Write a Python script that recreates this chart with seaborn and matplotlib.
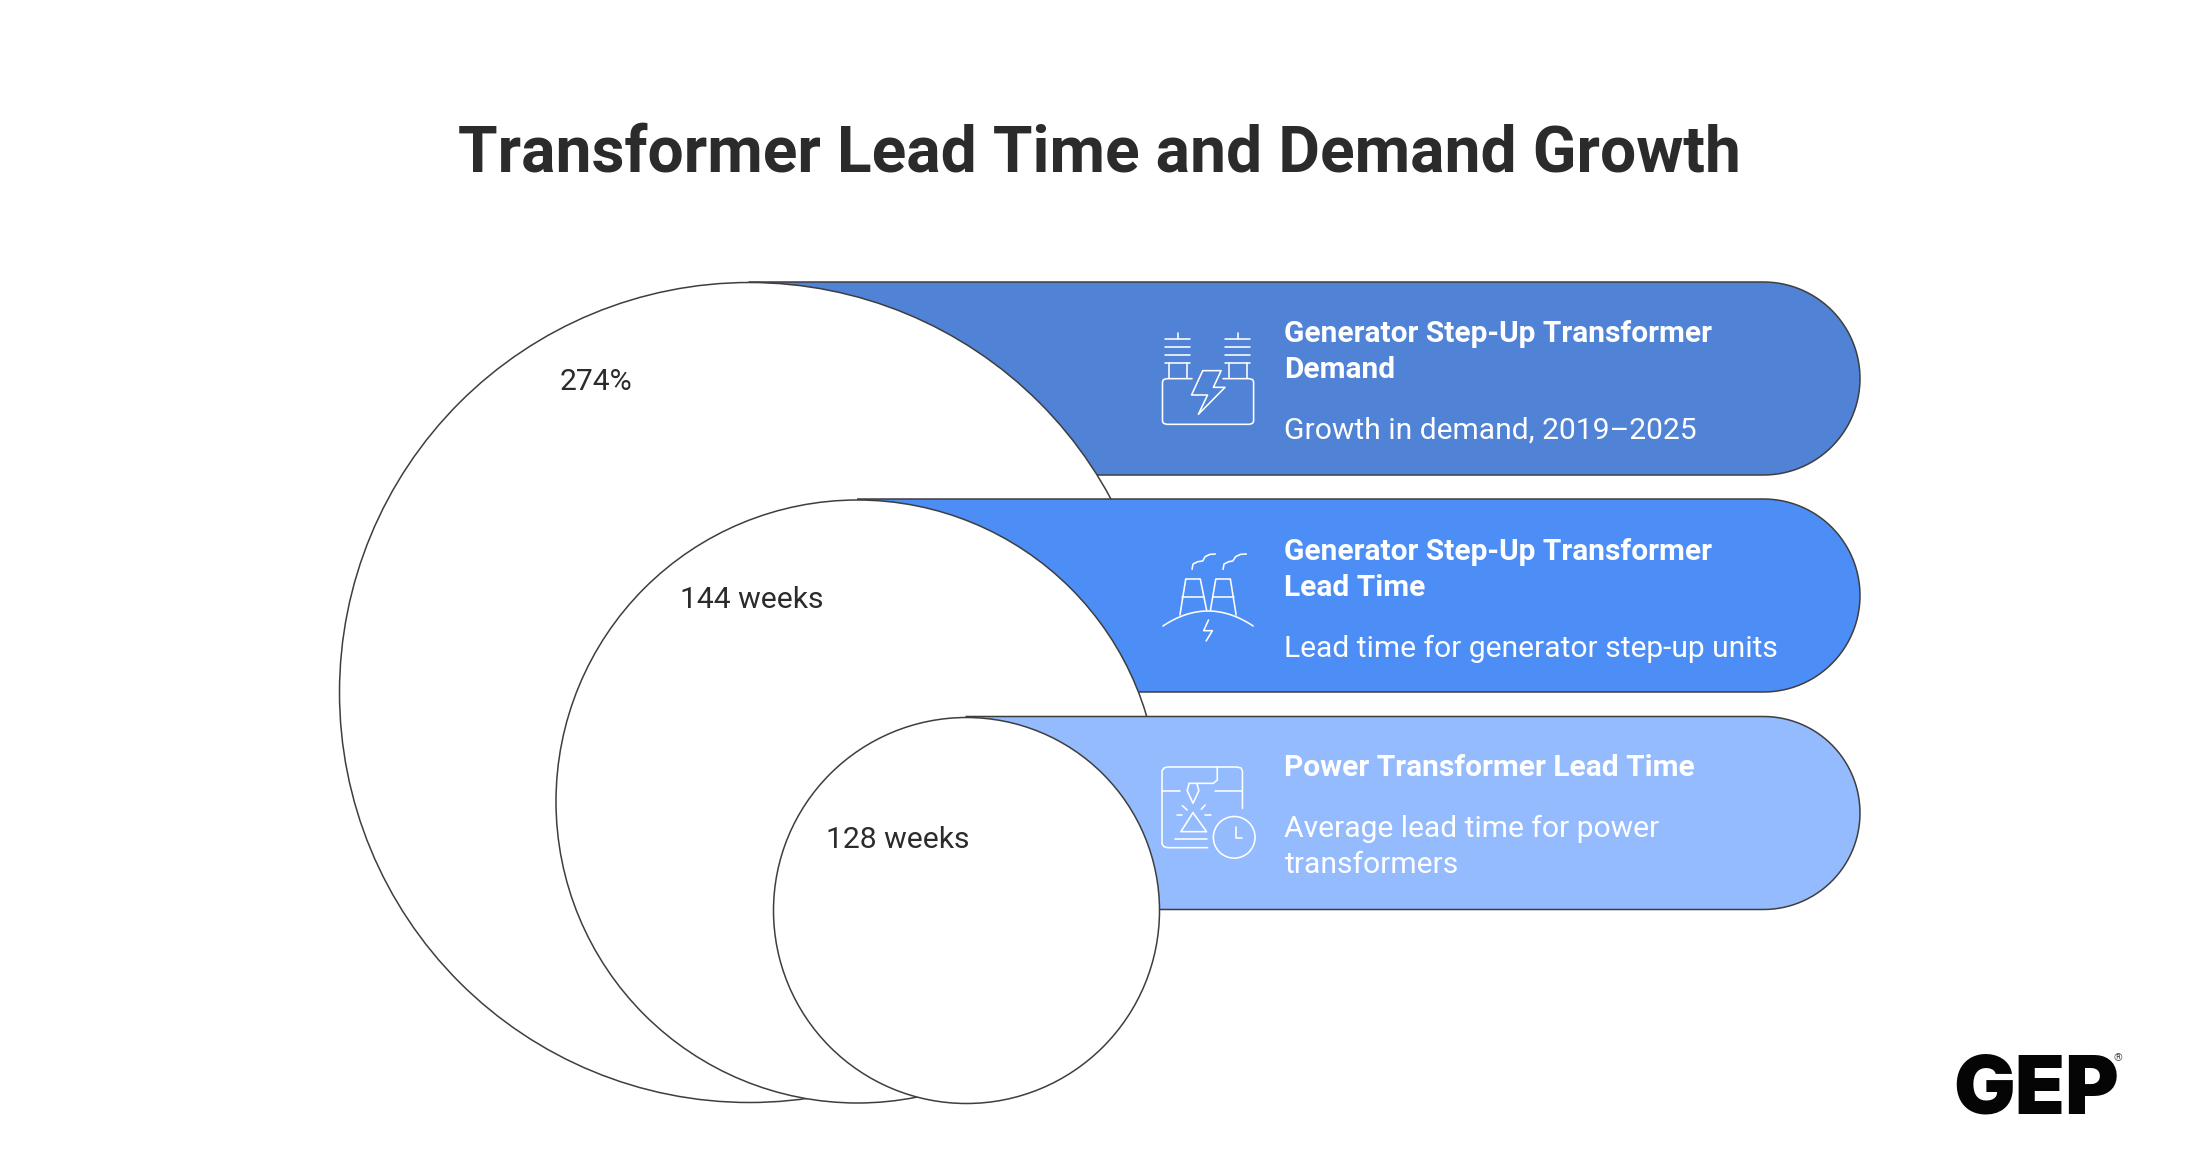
import numpy as np
import pandas as pd
import seaborn as sns
import matplotlib.pyplot as plt
from matplotlib.path import Path
from matplotlib.patches import PathPatch, Ellipse, Rectangle

# Chart content
metric_labels = ["274%", "144 weeks", "128 weeks"]
card_titles = ["Generator Step-Up Transformer\nDemand",
               "Generator Step-Up Transformer\nLead Time",
               "Power Transformer Lead Time"]
card_notes = ["Growth in demand, 2019\u20132025",
              "Lead time for generator step-up units",
              "Average lead time for power\ntransformers"]
card_colors = ["#5082D6", "#4D8EF6", "#95BBFF"]

# Layout, in pixels of the 2200x1175 picture
circle_x = [748.5, 857, 965.5]
circle_y = [692, 800.5, 909.5]
circle_r = [410, 301.5, 193]
card_right = 1860
label_xy = [(596, 382.5), (752, 599.5), (898, 840.5)]
title_y = [(333.5, 370), (551.5, 587.5), (768.5,)]
note_y = [(430.5,), (648.5,), (829, 865)]
line_color = "#3E3E3E"
text_color = "#2B2B2B"
SX, SY = 2.063, 3.0  # crop scale the icon points were read at

sns.set_theme(style="white")
plt.rcParams["font.family"] = ["Roboto", "DejaVu Sans"]

fig = plt.figure(figsize=(22, 11.75), dpi=100, facecolor="white")
ax = fig.add_axes([0, 0, 1, 1])


def draw_card(left, top, bottom, color, z):
    r = (bottom - top) / 2
    theta = np.linspace(-np.pi / 2, np.pi / 2, 60)
    arc = np.column_stack([card_right - r + r * np.cos(theta), top + r + r * np.sin(theta)])
    pts = np.vstack([[left, top], arc, [left, bottom]])
    ax.add_patch(PathPatch(Path(pts), facecolor=color, edgecolor=line_color, lw=1.1, zorder=z, fill=True))


def icon_line(pts, x0, y0, z=10):
    pts = np.array(pts, dtype=float)
    ax.plot(x0 + pts[:, 0] / SX, y0 + pts[:, 1] / SY, color="white", lw=1.15,
            solid_capstyle="round", solid_joinstyle="round", zorder=z)


# Cards and circles stacked from back to front
for i in range(3):
    top = circle_y[i] - circle_r[i]
    bottom = top + 193
    draw_card(circle_x[i], top, bottom, card_colors[i], 2 * i + 1)
    diameter = 2 * circle_r[i] * 72 / 100
    df = pd.DataFrame({"x": [circle_x[i]], "y": [circle_y[i]]})
    sns.scatterplot(data=df, x="x", y="y", s=diameter ** 2, color="white", edgecolor=line_color,
                    linewidth=1.1, zorder=2 * i + 2, legend=False, ax=ax, clip_on=False)
    ax.text(label_xy[i][0], label_xy[i][1], metric_labels[i], fontsize=21.7, color=text_color,
            ha="center", va="center", zorder=9)
    for line, y in zip(card_titles[i].split("\n"), title_y[i]):
        ax.text(1284.5, y, line, fontsize=21.5, fontweight="bold", color="white", va="center", zorder=10)
    for line, y in zip(card_notes[i].split("\n"), note_y[i]):
        ax.text(1284.5, y, line, fontsize=21.65, color="white", va="center", zorder=10)

# The big circle's edge stops under the second card, so mask it in the gap below
ax.add_patch(Rectangle((1120, 690), 60, 30, facecolor="white", edgecolor="none", zorder=2.5))

# Icon 1: transformer with bolt
x0, y0 = 1130, 300
icon_line([(128, 236), (76, 236), (69, 239), (67, 246), (67, 363), (69, 370), (76, 373),
           (246, 373), (253, 370), (255, 363), (255, 246), (253, 239), (246, 236), (192, 236)], x0, y0)
for shift in [0, 124]:
    icon_line([(72 + shift, 118), (124 + shift, 118)], x0, y0)
    icon_line([(98 + shift, 100), (98 + shift, 118)], x0, y0)
    icon_line([(72 + shift, 141), (124 + shift, 141)], x0, y0)
    icon_line([(72 + shift, 165), (124 + shift, 165)], x0, y0)
    icon_line([(72 + shift, 190), (124 + shift, 190)], x0, y0)
    icon_line([(81 + shift, 190), (81 + shift, 235)], x0, y0)
    icon_line([(117 + shift, 190), (117 + shift, 235)], x0, y0)
icon_line([(150, 212), (188, 212), (172, 262), (196, 262), (141, 343), (160, 285), (127, 285), (150, 212)], x0, y0)

# Icon 2: cooling towers on a hill
x0, y0 = 1130, 510
icon_line([(128, 178), (130, 162), (140, 155), (150, 153), (155, 140), (165, 133), (176, 132)], x0, y0)
icon_line([(192, 178), (194, 162), (204, 155), (212, 153), (218, 140), (228, 133), (240, 132)], x0, y0)
icon_line([(103, 315), (115, 207), (145, 207), (158, 300)], x0, y0)
icon_line([(108, 262), (152, 262)], x0, y0)
icon_line([(166, 300), (177, 207), (207, 207), (219, 315)], x0, y0)
icon_line([(172, 262), (214, 262)], x0, y0)
t = np.linspace(0, 1, 40)
hill = np.column_stack([68 + 186 * t, (1 - t) ** 2 * 348 + 2 * t * (1 - t) * 258 + t ** 2 * 348])
icon_line(hill, x0, y0)
icon_line([(162, 330), (152, 362), (170, 362), (157, 393)], x0, y0)

# Icon 3: welding torch page with clock
x0, y0 = 1130, 720
icon_line([(160, 383), (78, 383), (70, 380), (66, 371), (66, 153), (70, 144), (78, 141),
           (220, 141), (229, 144), (232, 153), (232, 265)], x0, y0)
icon_line([(180, 141), (180, 180), (172, 190), (122, 190)], x0, y0)
icon_line([(122, 190), (118, 212), (130, 250), (142, 212), (138, 190)], x0, y0)
icon_line([(66, 213), (103, 213)], x0, y0)
icon_line([(176, 213), (232, 213)], x0, y0)
icon_line([(108, 257), (118, 270)], x0, y0)
icon_line([(155, 255), (147, 268)], x0, y0)
icon_line([(97, 285), (107, 285)], x0, y0)
icon_line([(155, 285), (167, 285)], x0, y0)
icon_line([(130, 278), (105, 335), (158, 335), (130, 278)], x0, y0)
icon_line([(92, 358), (158, 358)], x0, y0)
icon_line([(218, 320), (218, 354), (232, 354)], x0, y0)
ax.add_patch(Ellipse((x0 + 215 / SX, y0 + 352 / SY), 86 / SX, 125 / SY, fill=False, edgecolor="white",
                     lw=1.15, zorder=10))

ax.text(1099.5, 154, "Transformer Lead Time and Demand Growth", fontsize=46.15, fontweight="bold",
        color=text_color, ha="center", va="center")

# Logo
ax.text(1953.5, 1113, "GEP", fontsize=59, fontweight="black", color="#050505", ha="left", va="baseline",
        family=["Inter", "DejaVu Sans"])
ax.text(2118, 1058, "\u00ae", fontsize=8, color="#555555", ha="center", va="center")

ax.set_xlim(0, 2200)
ax.set_ylim(1175, 0)
ax.set_xlabel("")
ax.set_ylabel("")
ax.axis("off")

fig.savefig("out.png", dpi=100, facecolor="white")
plt.close()
